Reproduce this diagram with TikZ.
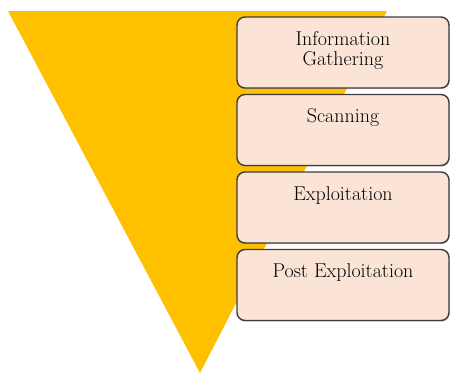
\documentclass[tikz,border=0pt]{standalone}
\usetikzlibrary{shadows}
\definecolor{funnelgold}{RGB}{255,192,0}
\definecolor{stagefill}{RGB}{251,228,214}
\definecolor{stageline}{RGB}{60,60,60}
\tikzset{
  stage/.style={
    draw=stageline,
    line width=1.4pt,
    fill=stagefill,
    rounded corners=8pt,
    minimum width=212pt,
    minimum height=71pt,
    inner sep=0pt,
    drop shadow={shadow xshift=0.8pt,shadow yshift=-1.2pt,opacity=0.35}
  },
  stagetext/.style={
    anchor=north,
    inner sep=0pt,
    yshift=-15pt,
    align=center,
    text=black,
    font=\fontsize{20}{20}\selectfont
  }
}

\begin{document}
\begin{tikzpicture}[x=1pt,y=-1pt]
  \useasboundingbox (0,0) rectangle (450,373);
  % funnel behind the stages
  \coordinate (tl) at (8,11);
  \coordinate (tr) at (387,11);
  \coordinate (tip) at (200,373);
  \fill[funnelgold] (tl) -- (tr) -- (tip) -- cycle;
  % stages
  \node[stage, label={[stagetext]north:{Information\\Gathering}}] (info) at (343,52.5) {};
  \node[stage, label={[stagetext]north:Scanning}] (scan) at (343,130) {};
  \node[stage, label={[stagetext]north:Exploitation}] (expl) at (343,207.5) {};
  \node[stage, label={[stagetext]north:Post Exploitation}] (post) at (343,285) {};
\end{tikzpicture}
\end{document}
